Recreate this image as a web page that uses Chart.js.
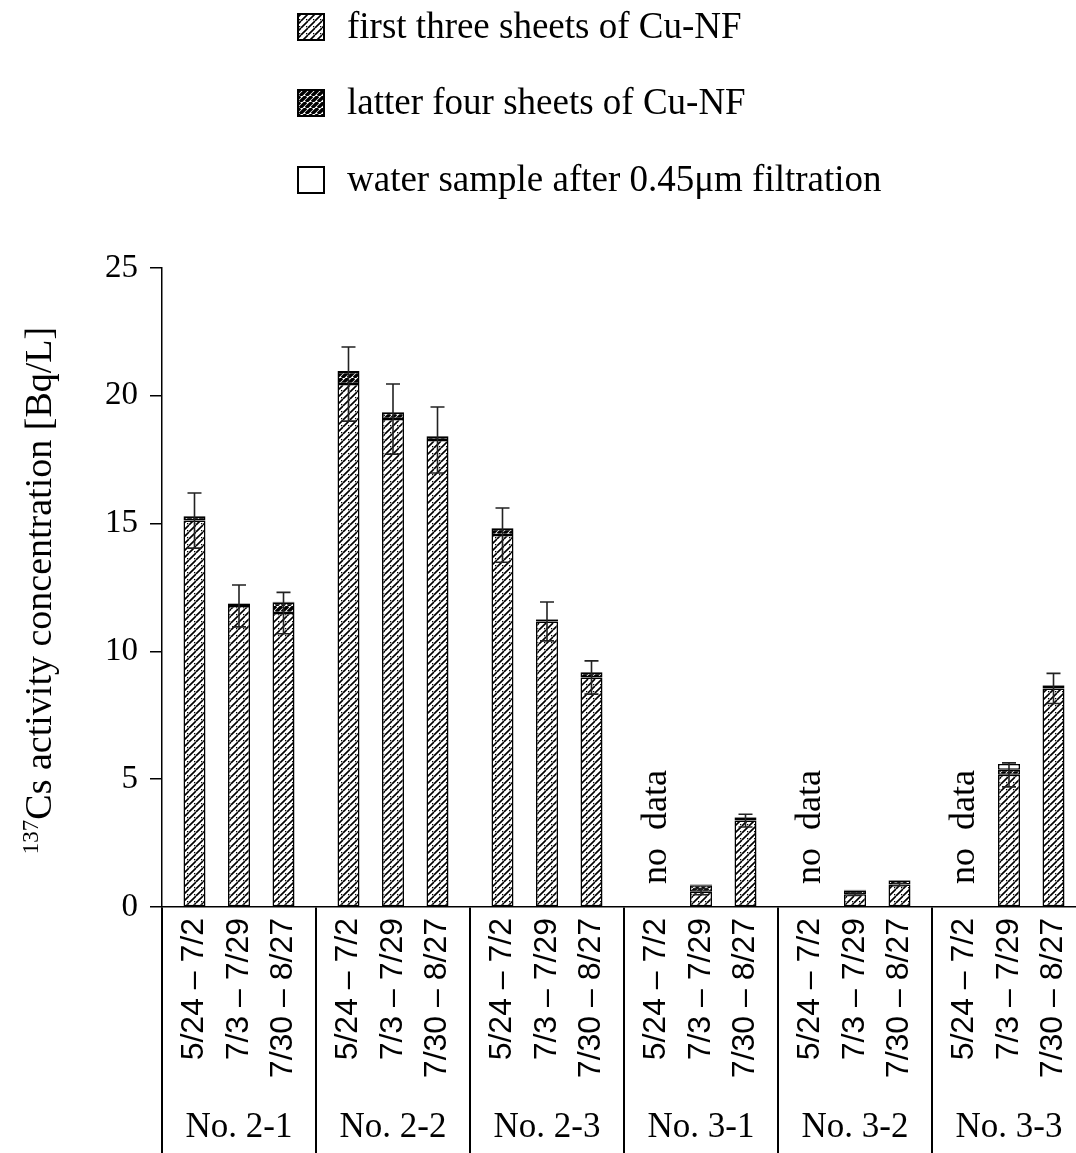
<!DOCTYPE html>
<html><head><meta charset="utf-8">
<script src="https://cdn.jsdelivr.net/npm/chart.js@4.4.0/dist/chart.umd.min.js"></script>
<style>html,body{margin:0;padding:0;background:#fff;overflow:hidden;}#wrap{width:1100px;height:1153px;}</style>
</head><body><div id="wrap"><canvas id="c" width="1100" height="1153"></canvas></div>
<script>
const groups = ['No. 2-1', 'No. 2-2', 'No. 2-3', 'No. 3-1', 'No. 3-2', 'No. 3-3'];
const periods = ['5/24 \u2013 7/2', '7/3 \u2013 7/29', '7/30 \u2013 8/27'];
const seriesNames = ['first three sheets of Cu-NF', 'latter four sheets of Cu-NF', 'water sample after 0.45\u03bcm filtration'];
const yTicks = [0, 5, 10, 15, 20, 25];
const noDataLabel = 'no  data';
const yTitleSup = '137';
const yTitleMain = 'Cs activity concentration [Bq/L]';

// values per period, across the six groups
const firstThree_P1 = [15.12, 20.46, 14.55, null, null, null];
const firstThree_P2 = [11.78, 19.09, 11.17, 0.60, 0.50, 5.17];
const firstThree_P3 = [11.50, 18.27, 8.98, 3.38, 0.88, 8.55];
const latterFour_P1 = [0.15, 0.47, 0.25, null, null, null];
const latterFour_P2 = [0.08, 0.25, 0.08, 0.25, 0.15, 0.20];
const latterFour_P3 = [0.40, 0.13, 0.18, 0.12, 0.16, 0.12];
const water_P1 = [0.03, 0.04, 0.03, null, null, null];
const water_P2 = [0.02, 0.03, 0.02, 0.03, 0.02, 0.22];
const water_P3 = [0.04, 0.03, 0.03, 0.02, 0.02, 0.02];
const error_P1 = [1.08, 1.45, 1.06, null, null, null];
const error_P2 = [0.82, 1.37, 0.76, 0.12, 0.05, 0.47];
const error_P3 = [0.81, 1.29, 0.65, 0.25, 0.05, 0.59];

const firstThree = [firstThree_P1, firstThree_P2, firstThree_P3];
const latterFour = [latterFour_P1, latterFour_P2, latterFour_P3];
const water = [water_P1, water_P2, water_P3];
const errors = [error_P1, error_P2, error_P3];

function makePattern(kind) {
  const s = kind === 'dark' ? 6 : 7;
  const c = document.createElement('canvas');
  c.width = s; c.height = s;
  const g = c.getContext('2d');
  g.fillStyle = '#fff'; g.fillRect(0, 0, s, s);
  g.strokeStyle = '#000';
  g.lineWidth = kind === 'dark' ? 3.4 : 1.6;
  g.beginPath();
  for (const o of [-s, 0, s]) { g.moveTo(o, s); g.lineTo(o + s, 0); }
  g.stroke();
  if (kind === 'light') { g.fillStyle = '#000'; g.fillRect(s - 2, s - 2, 1.3, 1.3); }
  return g.createPattern(c, 'repeat');
}
const fills = [makePattern('light'), makePattern('dark'), '#ffffff'];
const compData = [firstThree, latterFour, water];

const datasets = [];
for (let p = 0; p < periods.length; p++) {
  for (let k = 0; k < 3; k++) {
    datasets.push({
      label: seriesNames[k],
      data: compData[k][p],
      stack: 'P' + p,
      backgroundColor: fills[k],
      borderColor: '#000',
      borderWidth: 1.5,
      borderSkipped: false,
      period: p,
      comp: k
    });
  }
}

const SERIF = '"Liberation Serif", "Times New Roman", serif';
const SANS = '"Liberation Sans", Arial, sans-serif';

const overlayPlugin = {
  id: 'overlay',
  afterDatasetsDraw(chart) {
    const ctx = chart.ctx;
    const ys = chart.scales.y;
    // error bars centered on the first-three value
    ctx.save();
    ctx.strokeStyle = '#222';
    ctx.lineWidth = 1.6;
    for (let p = 0; p < periods.length; p++) {
      const meta = chart.getDatasetMeta(p * 3);
      for (let i = 0; i < groups.length; i++) {
        const v = firstThree[p][i], e = errors[p][i];
        if (v == null || e == null) continue;
        const x = meta.data[i].x;
        const y1 = ys.getPixelForValue(v + e), y2 = ys.getPixelForValue(v - e);
        ctx.beginPath();
        ctx.moveTo(x, y1); ctx.lineTo(x, y2);
        ctx.moveTo(x - 7, y1); ctx.lineTo(x + 7, y1);
        ctx.moveTo(x - 7, y2); ctx.lineTo(x + 7, y2);
        ctx.stroke();
      }
    }
    ctx.restore();
  },
  afterDraw(chart) {
    const ctx = chart.ctx;
    const area = chart.chartArea;
    // period labels under each bar, rotated
    ctx.save();
    ctx.fillStyle = '#000';
    for (let p = 0; p < periods.length; p++) {
      const meta = chart.getDatasetMeta(p * 3);
      for (let i = 0; i < groups.length; i++) {
        const x = meta.data[i].x;
        ctx.save();
        ctx.translate(x, area.bottom + 11);
        ctx.rotate(-Math.PI / 2);
        ctx.font = '32px ' + SANS;
        ctx.textAlign = 'right';
        ctx.textBaseline = 'middle';
        ctx.fillText(periods[p], 0, 0);
        ctx.restore();
        if (firstThree[p][i] == null) {
          ctx.save();
          ctx.translate(x, area.bottom - 23);
          ctx.rotate(-Math.PI / 2);
          ctx.font = '36px ' + SERIF;
          ctx.textAlign = 'left';
          ctx.textBaseline = 'middle';
          ctx.fillText(noDataLabel, 0, 0);
          ctx.restore();
        }
      }
    }
    ctx.restore();

    // y-axis title with superscript
    ctx.save();
    ctx.fillStyle = '#000';
    ctx.translate(40, (area.top + area.bottom) / 2 + 3);
    ctx.rotate(-Math.PI / 2);
    ctx.font = '23px ' + SERIF;
    const wSup = ctx.measureText(yTitleSup).width;
    ctx.font = '38px ' + SERIF;
    const wMain = ctx.measureText(yTitleMain).width;
    const start = -(wSup + wMain) / 2;
    ctx.textAlign = 'left';
    ctx.textBaseline = 'alphabetic';
    ctx.font = '23px ' + SERIF;
    ctx.fillText(yTitleSup, start, -2);
    ctx.font = '38px ' + SERIF;
    ctx.fillText(yTitleMain, start + wSup, 11);
    ctx.restore();

    // legend
    ctx.save();
    const rows = [27, 103, 180];
    for (let k = 0; k < 3; k++) {
      const ds = chart.data.datasets[k];
      const cy = rows[k];
      ctx.fillStyle = ds.backgroundColor;
      ctx.fillRect(298, cy - 13, 26, 26);
      ctx.strokeStyle = '#000';
      ctx.lineWidth = 2;
      ctx.strokeRect(298, cy - 13, 26, 26);
      ctx.fillStyle = '#000';
      ctx.font = '37px ' + SERIF;
      ctx.textAlign = 'left';
      ctx.textBaseline = 'middle';
      ctx.fillText(ds.label, 347, cy + 1);
    }
    ctx.restore();
  }
};

new Chart(document.getElementById('c'), {
  type: 'bar',
  data: { labels: groups, datasets: datasets },
  options: {
    responsive: false,
    animation: false,
    devicePixelRatio: 1,
    layout: { padding: { top: 268, left: 0, right: 14, bottom: 0 } },
    categoryPercentage: 0.867,
    barPercentage: 0.494,
    plugins: { legend: { display: false }, tooltip: { enabled: false }, title: { display: false } },
    scales: {
      x: {
        type: 'category',
        stacked: true,
        offset: true,
        grid: { display: true, offset: true, drawOnChartArea: false, drawTicks: true, tickLength: 246, color: '#000', lineWidth: 2 },
        border: { display: true, color: '#000', width: 1.5 },
        ticks: { padding: -46, color: '#000', font: { family: SERIF, size: 35 }, maxRotation: 0, minRotation: 0, autoSkip: false },
        afterFit(scale) { scale.height = 246; }
      },
      y: {
        stacked: true,
        min: 0, max: 25,
        afterBuildTicks(scale) { scale.ticks = yTicks.map(v => ({ value: v })); },
        ticks: { padding: 12, color: '#000', font: { family: SERIF, size: 33 } },
        grid: { drawOnChartArea: false, drawTicks: true, tickLength: 12, color: '#000', lineWidth: 1.5 },
        border: { display: true, color: '#000', width: 1.5 },
        afterFit(scale) { scale.width = 162; }
      }
    }
  },
  plugins: [overlayPlugin]
});
</script></body></html>
